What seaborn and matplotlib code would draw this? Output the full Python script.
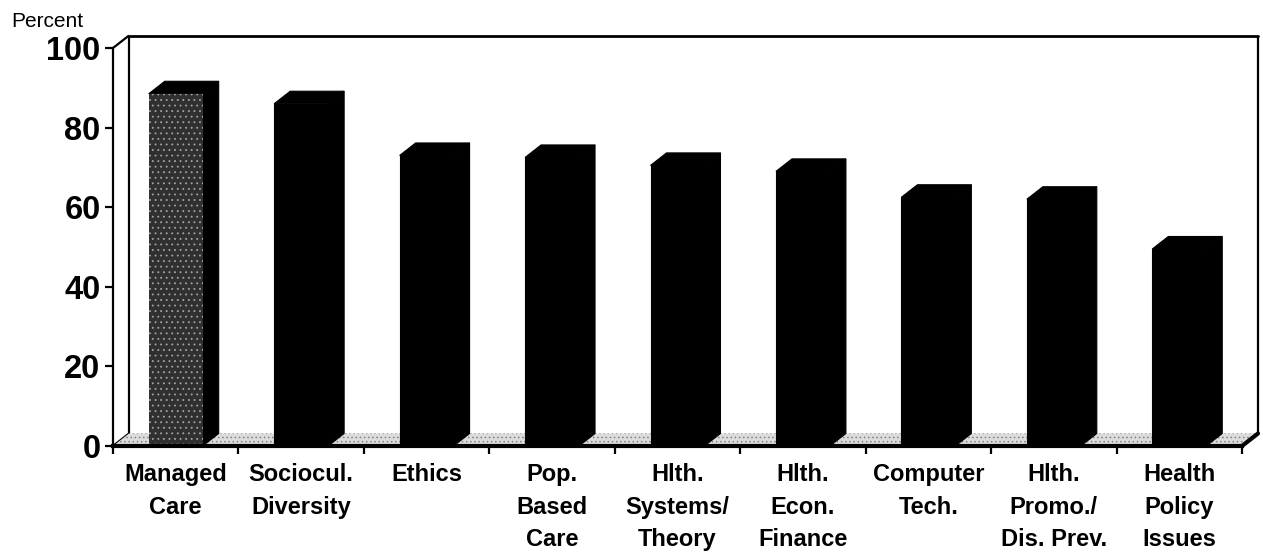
import numpy as np
import pandas as pd
import matplotlib
matplotlib.use("Agg")
import matplotlib.pyplot as plt
from matplotlib.patches import Polygon
import seaborn as sns

# ---- data ----
topics = ["Managed\nCare", "Sociocul.\nDiversity", "Ethics", "Pop.\nBased\nCare",
          "Hlth.\nSystems/\nTheory", "Hlth.\nEcon.\nFinance", "Computer\nTech.",
          "Hlth.\nPromo./\nDis. Prev.", "Health\nPolicy\nIssues"]
percent = [88.5, 86, 73, 72.5, 70.5, 69, 62.5, 62, 49.5]
yticks = [0, 20, 40, 60, 80, 100]
ylabel_text = "Percent"

sns.set_style("white")
plt.rcParams["font.family"] = ["Liberation Sans", "DejaVu Sans"]
plt.rcParams["hatch.linewidth"] = 0.6
for k in ["text.color", "axes.labelcolor", "xtick.color", "ytick.color",
          "axes.edgecolor"]:
    plt.rcParams[k] = "black"

df = pd.DataFrame({"topic": topics, "percent": percent})

W, H, DPI = 1263, 553, 100
fig = plt.figure(figsize=(W / DPI, H / DPI), dpi=DPI)
left_px, right_px, top_px, bot_px = 113, 1242, 48, 446
ax = fig.add_axes([left_px / W, (H - bot_px) / H,
                   (right_px - left_px) / W, (bot_px - top_px) / H])

sns.barplot(data=df, x="topic", y="percent", color="black", saturation=1,
            width=0.43, ax=ax, zorder=3)
n = len(topics)
ax.set_xlim(-0.5, n - 0.5)
ax.set_ylim(0, 100)

# depth offsets (in data units) derived from pixel scale
px_per_x = (right_px - left_px) / n
px_per_y = (bot_px - top_px) / 100
dx = 16 / px_per_x
dy = 12.5 / px_per_y

bars = list(ax.patches)

# back wall
wall_kw = dict(color="black", lw=1.6, clip_on=False, zorder=1, solid_capstyle="butt")
x0w, x1w = -0.5, n - 0.5
ax.plot([x0w + dx, x0w + dx], [dy, 100 + dy], **wall_kw)
ax.plot([x0w + dx, x1w + dx], [100 + dy, 100 + dy], color="black", lw=2.0,
        clip_on=False, zorder=1)
ax.plot([x1w + dx, x1w + dx], [100 + dy, dy], **wall_kw)
ax.plot([x0w, x0w + dx], [100, 100 + dy], **wall_kw)
ax.plot([x0w, x0w + dx], [0, dy], **wall_kw)

# floor
floor = Polygon([(x0w, 0), (x1w, 0), (x1w + dx, dy), (x0w + dx, dy)],
                closed=True, facecolor="#dcdcdc", edgecolor="#808080",
                hatch="....", lw=0, clip_on=False, zorder=2)
ax.add_patch(floor)
ax.plot([x1w, x1w + dx], [0, dy], color="black", lw=3, clip_on=False, zorder=6)

# 3D faces of bars
for p in bars:
    bx0 = p.get_x()
    bx1 = bx0 + p.get_width()
    v = p.get_height()
    side = Polygon([(bx1, 0), (bx1 + dx, dy), (bx1 + dx, v + dy), (bx1, v)],
                   closed=True, facecolor="black", edgecolor="black", lw=0.8,
                   clip_on=False, zorder=3)
    top = Polygon([(bx0, v), (bx0 + dx, v + dy), (bx1 + dx, v + dy), (bx1, v)],
                  closed=True, facecolor="black", edgecolor="black", lw=0.8,
                  clip_on=False, zorder=3)
    ax.add_patch(side)
    ax.add_patch(top)
    p.set_clip_on(False)
    p.set_edgecolor("black")
    p.set_linewidth(0.8)
    p.set_zorder(4)

first = bars[0]
first.set_facecolor("#303030")
first.set_edgecolor("#a5a5a5")
first.set_hatch("...")
first.set_linewidth(0)

# axes styling
for s in ["top", "right"]:
    ax.spines[s].set_visible(False)
ax.spines["left"].set_linewidth(1.6)
ax.spines["bottom"].set_linewidth(3)
ax.spines["left"].set_zorder(7)
ax.spines["bottom"].set_zorder(7)

ax.set_yticks(yticks)
ax.set_yticklabels([str(t) for t in yticks], fontsize=23.5, fontweight="bold")
ax.tick_params(axis="y", direction="out", length=6, width=1.6, pad=3, left=True)

ax.set_xticks(np.arange(-0.5, n), labels=[""] * (n + 1))
ax.set_xticks(np.arange(n), labels=topics, minor=True)
ax.tick_params(axis="x", which="major", direction="out", length=6, width=1.6,
               bottom=True)
ax.tick_params(axis="x", which="minor", length=0, pad=12.5, bottom=True)
for lbl in ax.get_xticklabels(minor=True):
    lbl.set_fontsize(17)
    lbl.set_fontweight("bold")
    lbl.set_linespacing(1.52)

ax.set_xlabel("")
ax.set_ylabel("")
ax.patch.set_visible(False)

fig.text(11 / W, (H - 27) / H, ylabel_text, fontsize=15, ha="left",
         va="baseline")

fig.savefig("out.png", dpi=DPI, facecolor="white")
